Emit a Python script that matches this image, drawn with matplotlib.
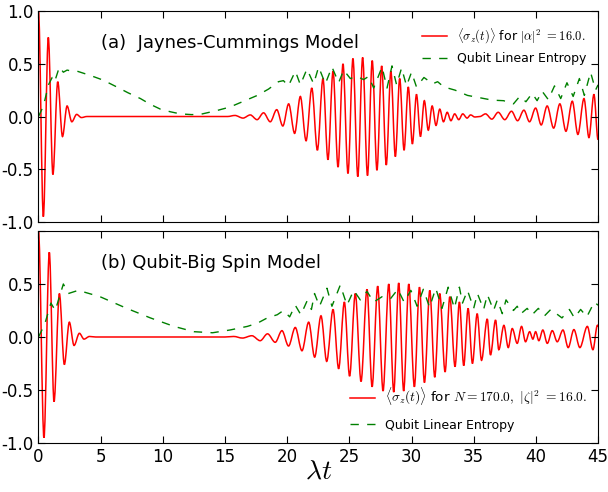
import matplotlib
matplotlib.use("Agg")
import matplotlib.pyplot as plt
from matplotlib.path import Path
from matplotlib.patches import PathPatch
from matplotlib.lines import Line2D

# (a) Jaynes-Cummings: extrema of <sigma_z(t)>
sz_a_t = [0.0, 0.39, 0.79, 1.16, 1.55, 1.93, 2.30, 2.68, 3.07, 3.45, 3.9,
          15.2, 15.8, 16.45, 17.03, 17.58, 18.1, 18.64, 19.16, 19.65, 20.12,
          20.6, 21.06, 21.52, 21.98, 22.43, 22.88, 23.28, 23.69, 24.09, 24.49,
          24.89, 25.29, 25.68, 26.07, 26.46, 26.84, 27.22, 27.6, 27.97, 28.34,
          28.7, 29.05, 29.4, 29.74, 30.07, 30.4, 30.72, 31.03, 31.35, 31.66,
          31.97, 32.27, 32.57, 32.87, 33.17, 33.47, 33.8, 34.12, 34.47, 34.75,
          35.1, 35.5, 35.95, 36.46, 36.97, 37.5, 38.04, 38.53, 39.04, 39.49,
          39.98, 40.43, 40.91, 41.43, 41.93, 42.42, 42.93, 43.38, 43.87, 44.27,
          44.67, 45.0]
sz_a_v = [1.0, -0.95, 0.75, -0.55, 0.33, -0.19, 0.10, -0.05, 0.02, -0.01, 0.0,
          0.0, 0.01, -0.015, 0.015, -0.03, 0.035, -0.05, 0.065, -0.09, 0.12,
          -0.16, 0.19, -0.23, 0.27, -0.32, 0.36, -0.41, 0.43, -0.48, 0.50,
          -0.54, 0.55, -0.57, 0.56, -0.56, 0.53, -0.51, 0.48, -0.46, 0.43,
          -0.38, 0.36, -0.32, 0.28, -0.26, 0.21, -0.19, 0.15, -0.13, 0.10,
          -0.085, 0.07, -0.05, 0.04, -0.04, 0.025, -0.03, 0.025, -0.015, 0.015,
          -0.005, 0.0, 0.025, -0.025, 0.04, -0.03, 0.05, -0.04, 0.06, -0.05,
          0.08, -0.08, 0.10, -0.11, 0.12, -0.14, 0.145, -0.17, 0.17, -0.20,
          0.21, -0.22]

ent_a_t = [0.0, 0.4, 0.8, 1.1, 1.3, 1.68, 2.0, 2.3, 2.7, 3.1, 4.15, 5.2, 6.3,
           7.2, 8.2, 9.0, 9.8, 10.6, 11.4, 12.3, 13.0, 14.3, 15.4, 16.5, 17.6,
           18.5, 19.3, 19.7, 20.1, 20.66, 21.06, 21.59, 22.13, 22.53, 23.07,
           23.6, 24.14, 24.54, 25.08, 25.6, 26.15, 26.55, 26.96, 27.63, 28.03,
           28.43, 28.8, 29.2, 29.6, 30.0, 30.4, 31.0, 31.7, 32.1, 32.6, 33.5,
           34.5, 35.4, 36.5, 37.4, 38.2, 38.7, 39.2, 39.7, 40.1, 40.5, 41.0,
           41.5, 42.0, 42.5, 43.0, 43.5, 43.9, 44.4, 44.8, 45.0]
ent_a_v = [0.0, 0.10, 0.30, 0.37, 0.33, 0.47, 0.42, 0.44, 0.43, 0.43, 0.39,
           0.345, 0.28, 0.225, 0.17, 0.115, 0.07, 0.045, 0.025, 0.018, 0.02,
           0.055, 0.09, 0.145, 0.20, 0.26, 0.33, 0.34, 0.29, 0.43, 0.30, 0.45,
           0.31, 0.47, 0.31, 0.47, 0.32, 0.44, 0.36, 0.38, 0.35, 0.38, 0.27,
           0.47, 0.27, 0.48, 0.30, 0.46, 0.29, 0.42, 0.28, 0.37, 0.31, 0.33,
           0.28, 0.25, 0.20, 0.18, 0.155, 0.15, 0.12, 0.19, 0.14, 0.22, 0.15,
           0.24, 0.16, 0.29, 0.17, 0.32, 0.19, 0.36, 0.20, 0.42, 0.25, 0.30]

# (b) qubit - big spin
sz_b_t = [0.0, 0.44, 0.87, 1.25, 1.68, 2.08, 2.48, 2.86, 3.29, 3.66, 4.1, 4.6,
          15.0, 15.7, 16.4, 17.16, 17.83, 18.42, 19.04, 19.58, 20.11, 20.65,
          21.19, 21.73, 22.21, 22.72, 23.18, 23.69, 24.14, 24.6, 25.02, 25.48,
          25.94, 26.42, 26.83, 27.28, 27.71, 28.17, 28.57, 28.97, 29.37, 29.78,
          30.23, 30.64, 31.04, 31.47, 31.87, 32.27, 32.7, 33.08, 33.5, 33.85,
          34.2, 34.55, 34.9, 35.28, 35.63, 36.09, 36.35, 36.76, 37.02, 37.43,
          37.78, 38.1, 38.5, 38.85, 39.17, 39.5, 39.76, 39.98, 40.24, 40.56,
          40.92, 41.32, 41.72, 42.18, 42.6, 43.06, 43.54, 44.14, 44.59, 44.95,
          45.0]
sz_b_v = [1.0, -0.95, 0.80, -0.61, 0.41, -0.26, 0.14, -0.08, 0.035, -0.02,
          0.005, 0.0, 0.0, 0.005, -0.01, 0.012, -0.035, 0.03, -0.05, 0.06,
          -0.085, 0.09, -0.13, 0.14, -0.19, 0.20, -0.23, 0.26, -0.30, 0.33,
          -0.37, 0.41, -0.42, 0.45, -0.47, 0.48, -0.51, 0.50, -0.52, 0.51,
          -0.51, 0.50, -0.47, 0.47, -0.43, 0.44, -0.38, 0.41, -0.33, 0.38,
          -0.28, 0.33, -0.27, 0.27, -0.25, 0.22, -0.22, 0.17, -0.17, 0.16,
          -0.12, 0.11, -0.10, 0.08, -0.06, 0.10, -0.045, 0.05, -0.02, 0.05,
          -0.035, 0.066, -0.06, 0.06, -0.045, 0.066, -0.10, 0.07, -0.10, 0.10,
          -0.12, 0.11, 0.10]

ent_b_t = [0.0, 0.5, 1.0, 1.35, 2.0, 2.4, 3.2, 4.95, 7.1, 9.0, 10.9, 12.5,
           14.0, 15.4, 16.8, 17.6, 18.4, 19.2, 19.7, 20.2, 20.65, 21.1, 21.6,
           21.95, 22.2, 22.6, 23.2, 23.6, 24.27, 24.81, 25.35, 25.88, 26.42,
           26.96, 27.63, 28.3, 28.9, 29.4, 29.95, 30.45, 30.95, 31.45, 31.95,
           32.45, 32.95, 33.45, 33.85, 34.1, 34.5, 35.0, 35.3, 35.8, 36.1,
           36.6, 36.9, 37.3, 37.6, 38.2, 38.5, 38.8, 39.3, 39.7, 40.2, 40.7,
           41.2, 42.1, 42.7, 43.1, 43.6, 44.1, 44.7, 45.0]
ent_b_v = [0.0, 0.12, 0.32, 0.25, 0.50, 0.41, 0.44, 0.38, 0.27, 0.18, 0.10,
           0.05, 0.04, 0.066, 0.10, 0.13, 0.18, 0.21, 0.25, 0.19, 0.30, 0.21,
           0.34, 0.26, 0.41, 0.29, 0.46, 0.29, 0.49, 0.30, 0.44, 0.35, 0.43,
           0.33, 0.38, 0.36, 0.45, 0.33, 0.44, 0.29, 0.45, 0.28, 0.46, 0.27,
           0.47, 0.27, 0.47, 0.32, 0.44, 0.27, 0.41, 0.26, 0.40, 0.25, 0.35,
           0.22, 0.35, 0.25, 0.29, 0.22, 0.27, 0.21, 0.27, 0.20, 0.26, 0.18,
           0.26, 0.18, 0.26, 0.19, 0.33, 0.30]

plt.rcParams['axes.unicode_minus'] = False
plt.rcParams['mathtext.fontset'] = 'cm'
plt.rcParams['font.family'] = 'DejaVu Sans'


def wave_path(t, v):
    # smooth stroke through extrema: cubic segments with flat tangents at each point
    verts = [(t[0], v[0])]
    codes = [Path.MOVETO]
    for i in range(1, len(t)):
        d = (t[i] - t[i - 1]) / 3.0
        verts += [(t[i - 1] + d, v[i - 1]), (t[i] - d, v[i]), (t[i], v[i])]
        codes += [Path.CURVE4] * 3
    return Path(verts, codes)


def draw_panel(ax, sz_t, sz_v, ent_t, ent_v, title, sz_label, legend_loc,
               sz_size, anchor, spacing):
    ax.add_patch(PathPatch(wave_path(sz_t, sz_v), facecolor='none',
                           edgecolor='red', lw=1.1))
    ax.plot(ent_t, ent_v, color='g', lw=1.0, dashes=(6, 6))
    ax.set_xlim(0, 45)
    ax.set_ylim(-1.0, 1.0)
    ax.set_xticks(range(0, 46, 5))
    ax.tick_params(direction='in', top=True, right=True, labelsize=12,
                   length=5)
    ax.text(5.0, 0.70, title, fontsize=13, va='center', ha='left')
    handles = [Line2D([], [], color='red', lw=1.1),
               Line2D([], [], color='g', lw=1.0, dashes=(6, 6))]
    leg = ax.legend(handles, [sz_label, 'Qubit Linear Entropy'],
                    loc=legend_loc, bbox_to_anchor=anchor, frameon=False,
                    fontsize=9, labelspacing=spacing)
    leg.get_texts()[0].set_fontsize(sz_size)


fig = plt.figure(figsize=(6.08, 4.92), dpi=100)
ax_a = fig.add_axes([0.0633, 0.5488, 0.9203, 0.4288])
ax_b = fig.add_axes([0.0633, 0.0996, 0.9203, 0.4309])

draw_panel(ax_a, sz_a_t, sz_a_v, ent_a_t, ent_a_v,
           '(a)  Jaynes-Cummings Model',
           r'$\langle\sigma_z(t)\rangle$ for $|\alpha|^2$ ${=}16.0.$',
           'upper right', 9.0, (1.0, 0.98), 0.5)
draw_panel(ax_b, sz_b_t, sz_b_v, ent_b_t, ent_b_v,
           '(b) Qubit-Big Spin Model',
           r'$\langle\sigma_z(t)\rangle$ for $N{=}170.0,\ |\zeta|^2$ ${=}16.0.$',
           'lower right', 9.7, (1.0, 0.0), 0.9)

ax_a.set_xticklabels([])
yt = [-1.0, -0.5, 0.0, 0.5, 1.0]
ax_a.set_yticks(yt)
ax_a.set_yticklabels(['%.1f' % y for y in yt])
ax_b.set_yticks(yt)
ax_b.set_yticklabels(['%.1f' % y for y in yt[:-1]] + [''])
ax_b.set_xlabel(r'$\lambda t$', fontsize=20, labelpad=-7)

fig.savefig('out.png', dpi=100)
